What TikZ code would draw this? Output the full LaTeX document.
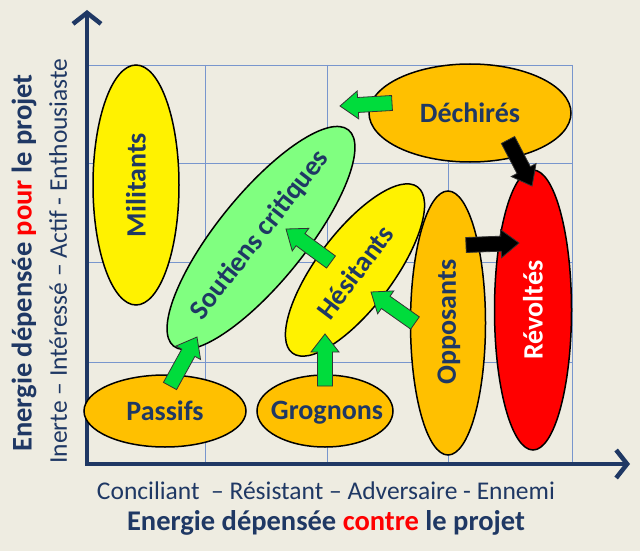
\documentclass[tikz,border=0pt]{standalone}
\usepackage{fontspec}
\setmainfont{Carlito}
\usetikzlibrary{arrows.meta,shapes.geometric,calc}
\definecolor{bg}{RGB}{238,236,225}
\definecolor{navy}{RGB}{31,56,100}
\definecolor{gridc}{RGB}{120,150,205}
\definecolor{orng}{RGB}{255,192,0}
\definecolor{lgreen}{RGB}{128,255,128}
\definecolor{agreen}{RGB}{0,220,60}
\newcommand\blockarr[3]{%
  \coordinate (hh) at ($(#2)!18pt!(#1)$);
  \filldraw[fill=#3, draw=black!80, line width=0.8pt, line join=miter]
    ($(#1)!7.5pt!90:(#2)$) -- ($(hh)!7.5pt!90:(#2)$) -- ($(hh)!14pt!90:(#2)$) -- (#2)
    -- ($(hh)!14pt!-90:(#2)$) -- ($(hh)!7.5pt!-90:(#2)$) -- ($(#1)!7.5pt!-90:(#2)$) -- cycle;}
\begin{document}
\begin{tikzpicture}[x=1pt,y=-1pt,
  blob/.style={ellipse, draw=black, line width=1.5pt, inner sep=0pt},
  lbl/.style={font=\fontsize{28}{30}\selectfont\bfseries, text=navy, inner sep=0pt},
  gridline/.style={draw=gridc, line width=0.8pt},
  axis/.style={draw=navy, line width=4.5pt, line join=miter,
    {Straight Barb[length=11pt,width=28pt]}-{Straight Barb[length=11pt,width=28pt]}},
  ttl/.style={font=\fontsize{28.5}{30}\selectfont\bfseries, text=navy, inner sep=0pt},
  sub/.style={font=\fontsize{25.5}{27}\selectfont, text=navy, inner sep=0pt}
]
\fill[bg] (0,0) rectangle (640,551);
\useasboundingbox (0,0) rectangle (640,551);
% grid
\foreach \y in {65,163,262,362} \draw[gridline] (87,\y) -- (572,\y);
\foreach \x in {205,327,448,572} \draw[gridline] (\x,65) -- (\x,464);
% axes
\coordinate (O) at (87,464);
\coordinate (Ytip) at (87,10);
\coordinate (Xtip) at (630,464);
\draw[axis] (Ytip) -- (O) -- (Xtip);
% ellipses
\node[blob, fill=yellow, minimum width=86, minimum height=240] (mil) at (136,185) {};
\node[blob, fill=lgreen, minimum width=278, minimum height=88, rotate=51] (sou) at (261,238) {};
\node[blob, fill=yellow, minimum width=208, minimum height=76, rotate=53] (hes) at (355,270) {};
\node[blob, fill=orng, minimum width=202, minimum height=98] (dec) at (470,113) {};
\node[blob, fill=orng, minimum width=75, minimum height=264] (opp) at (448,323) {};
\node[blob, fill=red, minimum width=77, minimum height=280] (rev) at (533,310) {};
\node[blob, fill=orng, minimum width=162, minimum height=72] (pas) at (165,411) {};
\node[blob, fill=orng, minimum width=136, minimum height=72] (gro) at (325,411) {};
% labels
\node[lbl, rotate=90] (milt) at (mil) {Militants};
\node[lbl, rotate=52] (sout) at (260,235) {Soutiens critiques};
\node[lbl, rotate=53] (hest) at (355,272) {Hésitants};
\node[lbl] (dect) at (470,113) {Déchirés};
\node[lbl, rotate=90] (oppt) at (449,322) {Opposants};
\node[lbl, rotate=90, text=white] (revt) at (533,310) {Révoltés};
\node[lbl] (past) at (165,411) {Passifs};
\node[lbl] (grot) at (327,413) {Grognons};
% arrow end points
\coordinate (g1a) at (170,386); \coordinate (g1b) at (197,337);
\coordinate (g2a) at (325,386); \coordinate (g2b) at (325,334);
\coordinate (g3a) at (331,262); \coordinate (g3b) at (286,229);
\coordinate (g4a) at (415,323); \coordinate (g4b) at (371,292);
\coordinate (g5a) at (392,103); \coordinate (g5b) at (340,106);
\coordinate (b1a) at (508,140); \coordinate (b1b) at (532,186);
\coordinate (b2a) at (466,245); \coordinate (b2b) at (519,243);
\blockarr{g1a}{g1b}{agreen}
\blockarr{g2a}{g2b}{agreen}
\blockarr{g3a}{g3b}{agreen}
\blockarr{g4a}{g4b}{agreen}
\blockarr{g5a}{g5b}{agreen}
\blockarr{b1a}{b1b}{black}
\blockarr{b2a}{b2b}{black}
% axis titles
\node[ttl, rotate=90] (ytitle) at (24,263) {Energie dépensée \textcolor{red}{pour} le projet};
\node[sub, rotate=90] (ysub) at (58,261) {Inerte – Intéressé – Actif - Enthousiaste};
\node[sub] (xsub) at (326,491) {Conciliant\ \ – Résistant – Adversaire - Ennemi};
\node[ttl] (xtitle) at (326,523) {Energie dépensée \textcolor{red}{contre} le projet};
\end{tikzpicture}
\end{document}
